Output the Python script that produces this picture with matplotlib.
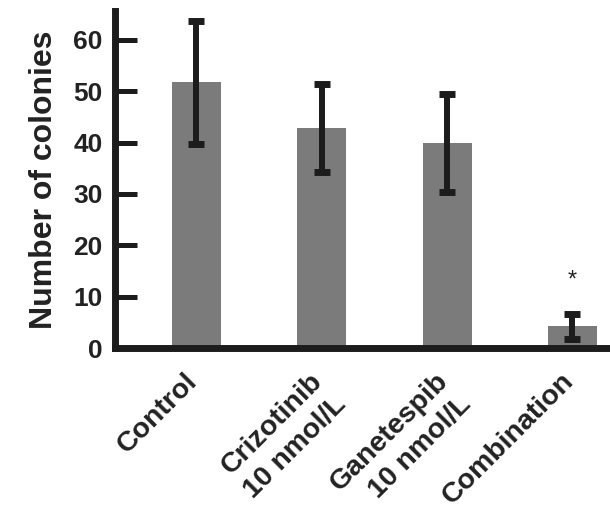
"""
Colony formation assay: number of colonies per treatment.
"""

import matplotlib
matplotlib.use("Agg")
import matplotlib.pyplot as plt
from matplotlib.transforms import ScaledTranslation

groups = ["Control", "Crizotinib\n10 nmol/L", "Ganetespib\n10 nmol/L", "Combination"]
colonies = [51.7, 42.8, 39.9, 4.2]
errors = [12.0, 8.6, 9.6, 2.5]
significance = ["", "", "", "*"]

plt.rcParams["font.family"] = ["Liberation Sans", "DejaVu Sans"]
plt.rcParams["font.weight"] = "bold"

fig = plt.figure(figsize=(6.1, 5.12), dpi=100)
ax = fig.add_axes([115 / 610, 164 / 512, 1 - 115 / 610, (347 - 10) / 512])

x = range(len(groups))
ax.bar(x, colonies, width=0.39, color="#7b7b7b", zorder=1)
ax.errorbar(x, colonies, yerr=errors, fmt="none", ecolor="#1c1c1c",
            elinewidth=4.3, capsize=5.8, capthick=5, zorder=2)

for xi, val, err, mark in zip(x, colonies, errors, significance):
    if mark:
        ax.text(xi, val + err + 6.5, mark, ha="center", va="center",
                fontsize=17, fontweight="normal", color="#222222")

ax.set_xlim(-0.65, 3.3)
ax.set_ylim(0, 65.6)
ax.set_yticks([0, 10, 20, 30, 40, 50, 60])
ax.set_xticks(list(x))
ax.set_xticklabels([])

# rotated group labels, placed just under the axis and a bit left of each bar
label_tf = ax.get_xaxis_transform() + ScaledTranslation(-0.12, -0.2, fig.dpi_scale_trans)
for xi, name in zip(x, groups):
    ax.text(xi, 0, name, transform=label_tf, rotation=45, ha="right", va="top",
            rotation_mode="anchor", fontsize=20.5, fontweight="bold",
            color="#222222", linespacing=1.35)

ax.set_ylabel("Number of colonies", fontsize=23, fontweight="bold",
              color="#222222")
ax.yaxis.set_label_coords(-0.113, 0.5)

for side in ["top", "right"]:
    ax.spines[side].set_visible(False)
for side in ["left", "bottom"]:
    ax.spines[side].set_linewidth(5)
    ax.spines[side].set_color("#1c1c1c")

ax.tick_params(axis="y", direction="in", length=16, width=3.6, color="#1c1c1c",
               labelsize=19, pad=9, labelcolor="#222222")
ax.tick_params(axis="x", length=0)

fig.savefig("out.png", dpi=100)
